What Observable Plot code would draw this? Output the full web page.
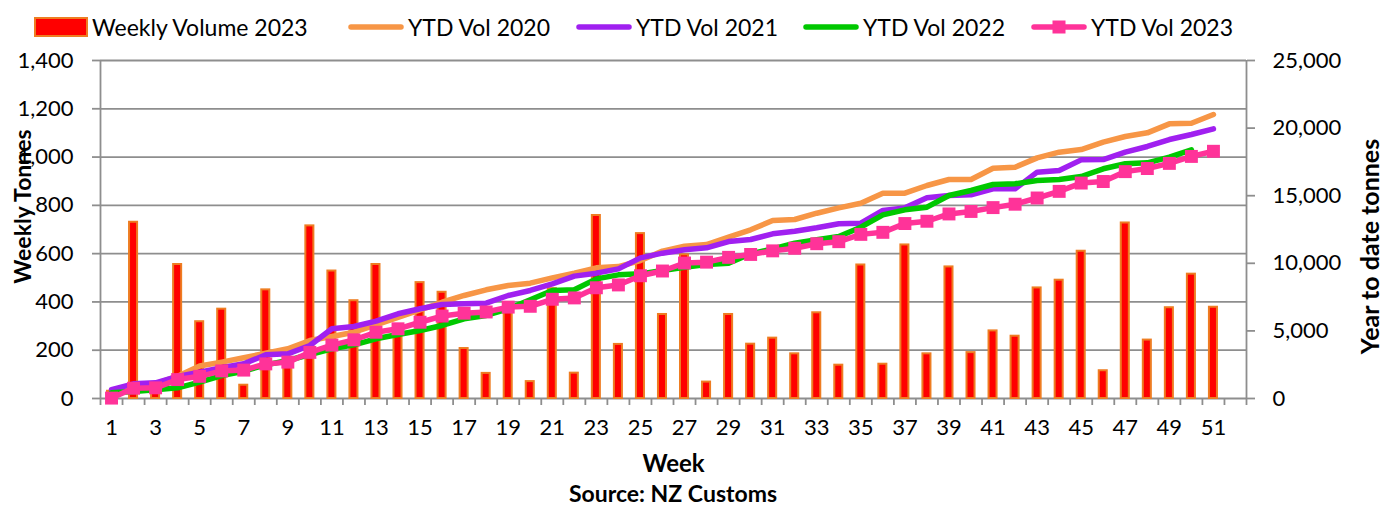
<!DOCTYPE html>
<html><head><meta charset="utf-8">
<script src="https://cdn.jsdelivr.net/npm/d3@7"></script>
<script src="https://cdn.jsdelivr.net/npm/@observablehq/plot@0.6"></script>
<style>
body{margin:0;background:#fff;font-family:Lato,"Open Sans",sans-serif;}
#wrap{position:relative;width:1384px;height:508px;overflow:hidden;background:#fff}
#legend{position:absolute;left:0;top:0;width:1384px;height:50px;z-index:2}
.item{position:absolute;top:11px;height:32px;display:flex;align-items:center;font-size:23px;color:#000;white-space:nowrap}
.item svg{margin-right:4px}
#chart{position:absolute;left:0;top:40px;z-index:1}
#caption{position:absolute;left:0;top:480px;width:1346px;text-align:center;font-weight:bold;font-size:23px;line-height:26px;color:#000}
</style></head>
<body>
<div id="wrap"><div id="legend"></div><div id="chart"></div><div id="caption">Source: NZ Customs</div></div>
<script>
// ---- data ----
const weeks = d3.range(1, 52);
const leftTicks = [0, 200, 400, 600, 800, 1000, 1200, 1400];
const rightTicks = [0, 5000, 10000, 15000, 20000, 25000];
const xTickLabels = d3.range(1, 52, 2);

const weekly2023 = [30, 730, 40, 555, 318, 370, 55, 450, 170, 715,
  528, 405, 555, 262, 480, 440, 207, 104, 365, 70,
  455, 105, 758, 224, 683, 348, 595, 68, 348, 225,
  250, 185, 355, 138, 553, 142, 636, 185, 545, 190,
  280, 258, 458, 490, 610, 115, 727, 242, 376, 515, 378];

const ytd2020 = [500, 960, 1085, 1650, 2400, 2690, 3010, 3350, 3675, 4290,
  4585, 4905, 5450, 6000, 6550, 7120, 7620, 8040, 8360, 8530,
  8925, 9270, 9665, 9760, 10200, 10900, 11265, 11390, 11930, 12475,
  13165, 13240, 13705, 14100, 14445, 15185, 15185, 15755, 16200, 16200,
  17030, 17110, 17800, 18220, 18415, 18960, 19380, 19650, 20315, 20360, 21005];

const ytd2021 = [650, 1085, 1160, 1627, 1945, 2270, 2566, 3230, 3305, 3920,
  5155, 5325, 5720, 6265, 6635, 6950, 7000, 7050, 7620, 7990,
  8480, 9050, 9270, 9590, 10400, 10750, 11000, 11145, 11610, 11760,
  12180, 12375, 12625, 12920, 12965, 13905, 14100, 14845, 15015, 15065,
  15510, 15510, 16740, 16865, 17650, 17675, 18220, 18640, 19155, 19525, 19945];

const ytd2022 = [420, 518, 640, 790, 1207, 1700, 2020, 2490, 2810, 3255,
  3675, 3970, 4415, 4735, 5030, 5400, 5895, 6140, 6635, 7300,
  7990, 8040, 8850, 9145, 9220, 9470, 9710, 9910, 10010, 10700,
  11070, 11490, 11735, 11980, 12670, 13585, 13955, 14150, 15015, 15385,
  15830, 15880, 16125, 16200, 16420, 16990, 17360, 17430, 17850, 18395];

const ytd2023 = [30, 760, 790, 1400, 1640, 2040, 2100, 2560, 2690, 3410,
  3950, 4340, 4900, 5155, 5640, 6100, 6310, 6400, 6760, 6820,
  7340, 7440, 8190, 8400, 9080, 9430, 10020, 10085, 10440, 10655,
  10920, 11110, 11450, 11600, 12140, 12290, 12940, 13110, 13650, 13835,
  14120, 14370, 14830, 15320, 15935, 16050, 16780, 17010, 17390, 17905, 18285];

const seriesNames = ["YTD Vol 2020", "YTD Vol 2021", "YTD Vol 2022", "YTD Vol 2023"];
const seriesColors = ["#f79646", "#a020f0", "#00c800", "#ff3399"];
const barName = "Weekly Volume 2023";
const barFill = "#ff0000", barStroke = "#ee7d22";
const gray = "#8e8e8e";

// ---- build ----
const k = 1400 / 25000; // right axis -> left axis units
const bars = weekly2023.map((v, i) => ({week: weeks[i], v}));
const ytds = [ytd2020, ytd2021, ytd2022, ytd2023];
const lineData = ytds.map(arr => arr.map((v, i) => ({week: weeks[i], v: v * k})));

const lineOpts = (i) => ({x: "week", y: "v", stroke: seriesColors[i], strokeWidth: 5.5,
  strokeLinecap: "round", strokeLinejoin: "round"});

const chart = Plot.plot({
  width: 1384, height: 440,
  marginTop: 20, marginBottom: 82, marginLeft: 100, marginRight: 138,
  style: {fontFamily: "Lato, 'Open Sans', sans-serif", fontSize: "22px", color: "#000", background: "transparent", overflow: "visible"},
  x: {type: "linear", domain: [0.5, 52.5]},
  y: {domain: [0, 1400]},
  marks: [
    Plot.gridY(leftTicks, {stroke: gray, strokeOpacity: 1, strokeWidth: 1.8}),
    Plot.ruleX([0.5, 52.5], {stroke: gray, strokeWidth: 1.8}),
    Plot.axisX(d3.range(0.5, 53, 1), {tickSize: 7, tickFormat: () => "", stroke: gray, strokeWidth: 1.8, label: null}),
    Plot.axisX(xTickLabels, {tickSize: 0, tickPadding: 21, label: null, tickFormat: d => String(d), fontSize: 22}),
    Plot.axisY(leftTicks, {anchor: "left", tickSize: 8, tickPadding: 19, stroke: gray, strokeWidth: 1.8, label: null, tickFormat: d3.format(","), fontSize: 22}),
    Plot.axisY(rightTicks.map(v => v * k), {anchor: "right", tickSize: 8, tickPadding: 18, stroke: gray, strokeWidth: 1.8, label: null,
      tickFormat: d => d3.format(",")(Math.round(d / k)), fontSize: 22}),
    Plot.rectY(bars, {x1: d => d.week - 0.5, x2: d => d.week + 0.5, y: "v", insetLeft: 7, insetRight: 7,
      fill: barFill, stroke: barStroke, strokeWidth: 2}),
    Plot.lineY(lineData[0], lineOpts(0)),
    Plot.lineY(lineData[1], lineOpts(1)),
    Plot.lineY(lineData[2], lineOpts(2)),
    Plot.lineY(lineData[3], lineOpts(3)),
    Plot.dot(lineData[3], {x: "week", y: "v", symbol: "square", r: 7.3, fill: seriesColors[3], stroke: null}),
    Plot.text(["Weekly Tonnes"], {text: d => d, frameAnchor: "left", textAnchor: "middle", dx: -77, dy: -23, rotate: -90, fontWeight: "bold", fontSize: 23}),
    Plot.text(["Year to date tonnes"], {text: d => d, frameAnchor: "right", textAnchor: "middle", dx: 124, dy: 17, rotate: -90, fontWeight: "bold", fontSize: 25, letterSpacing: 2}),
    Plot.text(["Week"], {text: d => d, frameAnchor: "bottom", dy: 73, fontWeight: "bold", fontSize: 24})
  ]
});
document.getElementById("chart").appendChild(chart);

// ---- legend ----
const legend = document.getElementById("legend");
const lefts = [34, 348, 576, 803, 1031];
const entries = [{name: barName, kind: "bar"}].concat(seriesNames.map((n, i) => ({name: n, kind: "line", color: seriesColors[i], marker: i === 3})));
entries.forEach((e, i) => {
  const div = document.createElement("div");
  div.className = "item";
  div.style.left = lefts[i] + "px";
  let sym;
  if (e.kind === "bar") {
    sym = `<svg width="54" height="20"><rect x="1" y="1" width="52" height="18" fill="${barFill}" stroke="${barStroke}" stroke-width="2"/></svg>`;
  } else {
    sym = `<svg width="56" height="20"><line x1="3" y1="10" x2="53" y2="10" stroke="${e.color}" stroke-width="5.5" stroke-linecap="round"/>` +
      (e.marker ? `<rect x="21.5" y="3.5" width="13" height="13" fill="${e.color}"/>` : "") + `</svg>`;
  }
  div.innerHTML = sym + `<span>${e.name}</span>`;
  legend.appendChild(div);
});
</script>
</body></html>
